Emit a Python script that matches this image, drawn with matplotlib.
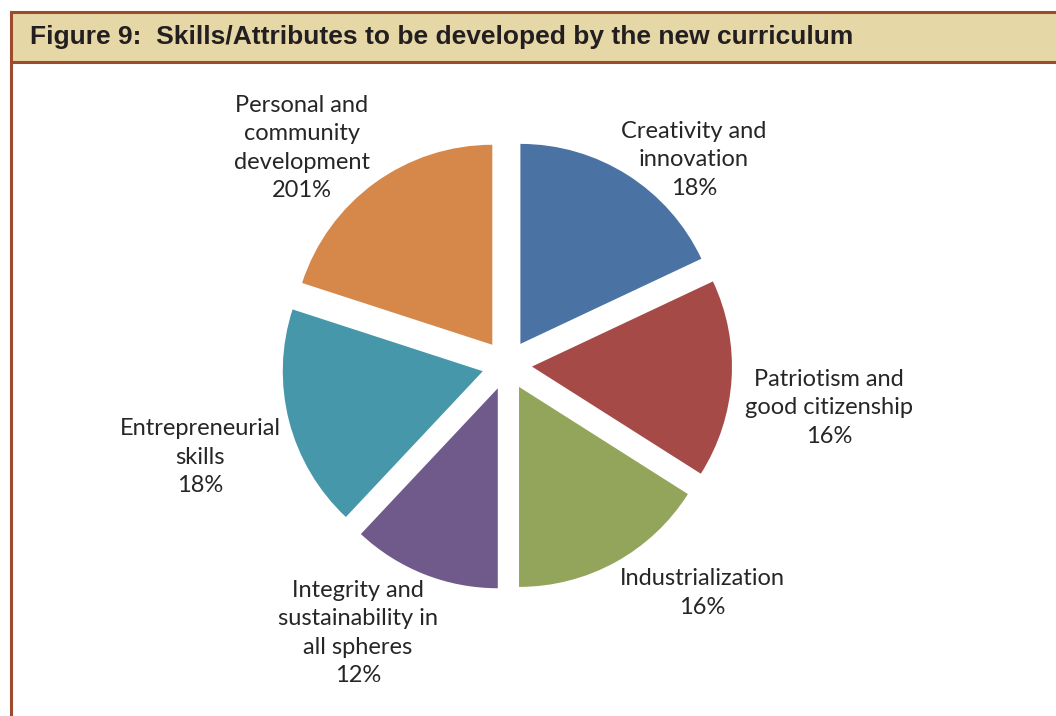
import matplotlib.pyplot as plt
from matplotlib.patches import Rectangle

# skills / attributes and their shares (%)
categories = ['Creativity and\ninnovation', 'Patriotism and\ngood citizenship',
              'Industrialization', 'Integrity and\nsustainability in\nall spheres',
              'Entrepreneurial\nskills', 'Personal and\ncommunity\ndevelopment']
shares = [18, 16, 16, 12, 18, 20]
pct_labels = ['18%', '16%', '16%', '12%', '18%', '201%']
colors = ['#4A72A2', '#A64A48', '#92A55B', '#705A8C', '#4797AB', '#D6874A']

W, H = 1056, 716
fig = plt.figure(figsize=(W / 100, H / 100), dpi=100)
ax = fig.add_axes([0, 0, 1, 1])

# pie centred at (507, 365) px from the top-left, radius ~200 px,
# every slice pulled out by 25 px
ax.pie(shares, colors=colors, startangle=90, counterclock=False,
       center=(507, H - 365), radius=200, explode=[25] * len(shares),
       wedgeprops=dict(linewidth=0))
ax.set_xlim(0, W)
ax.set_ylim(0, H)
ax.set_aspect('auto')
ax.axis('off')

# label positions (px, from top-left)
label_pos = [(694, 160), (829, 408), (702, 593), (358, 633), (200, 457), (302, 148)]
for (x, y), cat, pct in zip(label_pos, categories, pct_labels):
    ax.text(x, H - y, cat + '\n' + pct, ha='center', va='center',
            fontsize=17, family='Lato', color='#262626', linespacing=1.42)

# title band and frame
brown = '#9E4A2C'
ax.add_patch(Rectangle((11, H - 62), W + 20, 50, facecolor='#E6D8A6',
                       edgecolor=brown, lw=2.2, clip_on=False, zorder=5))
ax.plot([11, 11], [H - 62, -10], color=brown, lw=2.2, clip_on=False, zorder=5)
ax.text(30, H - 37, 'Figure 9:  Skills/Attributes to be developed by the new curriculum',
        ha='left', va='center', fontsize=19, fontweight='bold',
        family='Liberation Sans', color='#231F20', zorder=6)

fig.savefig('out.png', dpi=100)
